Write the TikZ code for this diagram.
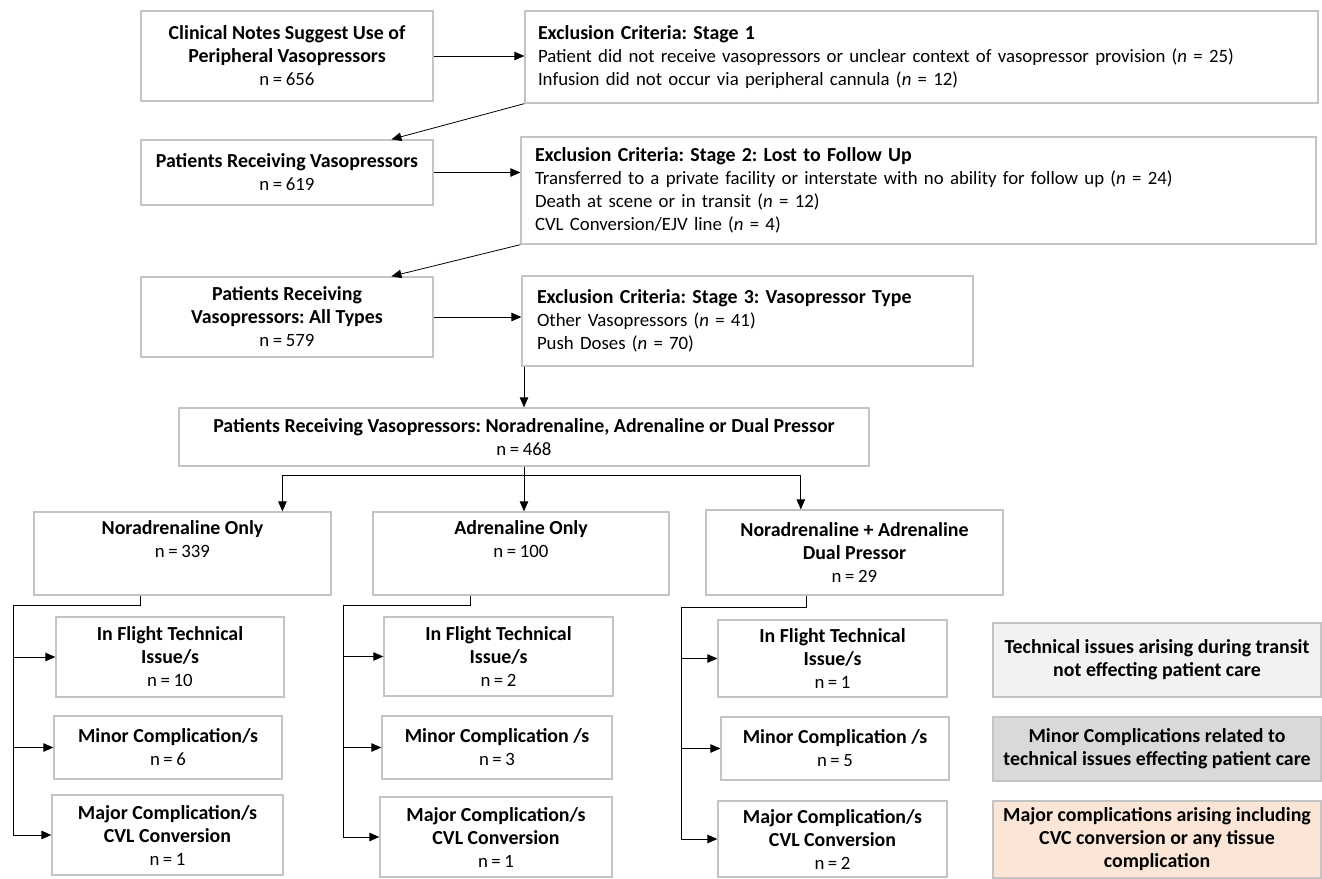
\documentclass[tikz,border=0pt]{standalone}
\usepackage{fontspec}
\setmainfont{Carlito}[UprightFeatures={WordSpace=0.85},BoldFeatures={Scale=1.058}]
\usepackage{tikz}
\usetikzlibrary{arrows.meta,calc}
\definecolor{boxgray}{HTML}{C4C4C4}
\definecolor{techfill}{HTML}{F2F2F2}
\definecolor{minorfill}{HTML}{D9D9D9}
\definecolor{majorfill}{HTML}{FBE5D6}
\frenchspacing

\begin{document}
\begin{tikzpicture}[
x=1pt,y=-1pt,
font=\fontsize{18.8}{23}\selectfont,
screen/.style={rectangle,draw=boxgray,line width=1.3pt,align=center,inner sep=0pt},
excl/.style={screen,align=left},
key/.style={screen,font=\fontsize{18.8}{23}\selectfont\bfseries},
arr/.style={-{Triangle[length=10pt,width=8.5pt]},line width=0.8pt},
conn/.style={line width=0.8pt}
]
\useasboundingbox (0,0) rectangle (1322,878);

\node[screen,minimum width=292pt,minimum height=90pt] (notes) at (287,56) {\textbf{Clinical Notes Suggest Use of}\\\textbf{Peripheral Vasopressors}\\n = 656};
\node[excl,inner xsep=12pt,text width=767pt,minimum width=793pt,minimum height=92pt] (stage1) at (921.5,57) {\textbf{Exclusion Criteria: Stage 1}\\Patient did not receive vasopressors or unclear context of vasopressor provision (\textit{n} = 25)\\Infusion did not occur via peripheral cannula (\textit{n} = 12)};
\node[screen,minimum width=292pt,minimum height=65pt] (received) at (287,172.5) {\textbf{Patients Receiving Vasopressors}\\n = 619};
\node[excl,inner xsep=13pt,text width=767pt,minimum width=795pt,minimum height=107pt] (stage2) at (918.5,190.5) {\textbf{Exclusion Criteria: Stage 2: Lost to Follow Up}\\Transferred to a private facility or interstate with no ability for follow up (\textit{n} = 24)\\Death at scene or in transit (\textit{n} = 12)\\CVL Conversion/EJV line (\textit{n} = 4)};
\node[screen,minimum width=292pt,minimum height=80pt] (alltypes) at (287,317) {\textbf{Patients Receiving}\\\textbf{Vasopressors: All Types}\\n = 579};
\node[excl,inner xsep=14pt,text width=421pt,minimum width=451pt,minimum height=90pt] (stage3) at (747.5,321) {\textbf{Exclusion Criteria: Stage 3: Vasopressor Type}\\Other Vasopressors (\textit{n} = 41)\\Push Doses (\textit{n} = 70)};
\node[screen,minimum width=690pt,minimum height=58pt] (included) at (524,437) {\textbf{Patients Receiving Vasopressors: Noradrenaline, Adrenaline or Dual Pressor}\\n = 468};

\node[screen,minimum width=297pt,minimum height=83pt] (noradr) at (182.5,553.5) {\textbf{Noradrenaline Only}\\n = 339\\\strut};
\node[screen,minimum width=296pt,minimum height=83pt] (adr) at (521,553.5) {\textbf{Adrenaline Only}\\n = 100\\\strut};
\node[screen,minimum width=297pt,minimum height=85pt] (dual) at (854.5,552.5) {\textbf{Noradrenaline + Adrenaline}\\\textbf{Dual Pressor}\\n = 29};

\node[screen,minimum width=228pt,minimum height=80pt] (ntech) at (170,657) {\textbf{In Flight Technical}\\\textbf{Issue/s}\\n = 10};
\node[screen,minimum width=228pt,minimum height=63pt] (nminor) at (168,747.5) {\textbf{Minor Complication/s}\\n = 6};
\node[screen,minimum width=231pt,minimum height=80pt] (nmajor) at (167.5,835) {\textbf{Major Complication/s}\\\textbf{CVL Conversion}\\n = 1};

\node[screen,minimum width=229pt,minimum height=79pt] (atech) at (498.5,656.5) {\textbf{In Flight Technical}\\\textbf{Issue/s}\\n = 2};
\node[screen,minimum width=230pt,minimum height=63pt] (aminor) at (497,747.5) {\textbf{Minor Complication /s}\\n = 3};
\node[screen,minimum width=232pt,minimum height=80pt] (amajor) at (496,837) {\textbf{Major Complication/s}\\\textbf{CVL Conversion}\\n = 1};

\node[screen,minimum width=229pt,minimum height=77pt] (dtech) at (832.5,658.5) {\textbf{In Flight Technical}\\\textbf{Issue/s}\\n = 1};
\node[screen,minimum width=228pt,minimum height=63pt] (dminor) at (835,748.5) {\textbf{Minor Complication /s}\\n = 5};
\node[screen,minimum width=229pt,minimum height=76pt] (dmajor) at (832.5,839) {\textbf{Major Complication/s}\\\textbf{CVL Conversion}\\n = 2};

\node[key,fill=techfill,minimum width=328pt,minimum height=74pt] (keytech) at (1157,660) {Technical issues arising during transit\\not effecting patient care};
\node[key,fill=minorfill,minimum width=328pt,minimum height=64pt] (keyminor) at (1157,749) {Minor Complications related to\\technical issues effecting patient care};
\node[key,fill=majorfill,minimum width=328pt,minimum height=77pt] (keymajor) at (1157,839.5) {Major complications arising including\\CVC conversion or any tissue\\complication};

\draw[arr] (notes.east) -- (notes.east -| stage1.west);
\draw[arr] (stage1.south west) -- ($(received.north west)!0.856!(received.north east)$);
\draw[arr] (received.east) -- (received.east -| stage2.west);
\draw[arr] (stage2.south west) -- ($(alltypes.north west)!0.856!(alltypes.north east)$);
\draw[arr] (alltypes.east) -- (alltypes.east -| stage3.west);
\draw[arr] (stage3.south west -| included.north) -- (included.north);

\coordinate (split) at ($(included.south)+(0,9)$);
\draw[conn] (included.south) -- (split);
\draw[arr] (split) -| ($(noradr.north west)!0.835!(noradr.north east)$);
\draw[arr] (split) -- (split |- adr.north);
\draw[arr] (split) -| ($(dual.north west)!0.32!(dual.north east)$);

\coordinate (nbr) at (13,605);
\coordinate (abr) at (343,605);
\coordinate (dbr) at (681,607);
\draw[conn] ($(noradr.south west)!0.36!(noradr.south east)$) |- (nbr) -- (nbr |- nmajor.west);
\draw[conn] ($(adr.south west)!0.33!(adr.south east)$) |- (abr) -- (abr |- amajor.west);
\draw[conn] ($(dual.south west)!0.34!(dual.south east)$) |- (dbr) -- (dbr |- dmajor.west);
\foreach \sub in {ntech,nminor,nmajor} \draw[arr] (nbr |- \sub.west) -- (\sub.west);
\foreach \sub in {atech,aminor,amajor} \draw[arr] (abr |- \sub.west) -- (\sub.west);
\foreach \sub in {dtech,dminor,dmajor} \draw[arr] (dbr |- \sub.west) -- (\sub.west);
\end{tikzpicture}
\end{document}
